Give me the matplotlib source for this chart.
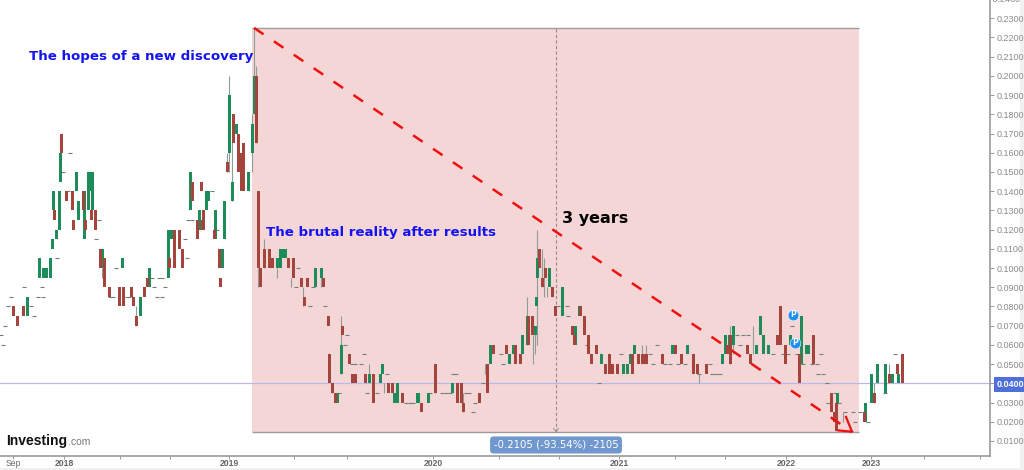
import matplotlib
matplotlib.use('Agg')
import matplotlib.pyplot as plt

# weekly candles, x is the week number on the (compressed) time axis
up_weeks = [6.75, 9.75, 10.75, 11.5, 12.5, 13, 13.25, 14, 14.75, 15, 19, 19.5, 21, 22, 22.25, 23, 25.5, 30.5, 35,
            37.25, 42, 42.75, 47.5, 49.25, 49.75, 51.5, 52, 53.75, 55.5, 56, 57.25, 58, 59, 60.5, 62, 63, 63.5,
            69.25, 70, 70.75, 71.25, 78.75, 80.25, 84.25,
            85.25, 92.25, 95, 95.5, 98.5, 99.25, 104.25, 104.5, 107, 113, 122.5, 127.25, 128.25, 130.5, 131.75,
            133.75, 134, 134.25, 137.25, 140.5, 143.75, 144.75, 150.25, 155.75, 156.75, 157.5, 158.5, 168,
            171.75, 180.5, 181.25, 182.25, 183.25, 189, 190, 190.75, 192, 197.5, 200.25, 201.5, 202, 209.25,
            216.25, 217.75, 219.25, 221.25, 223, 224.5]
up_open = [.075, .095, .095, .095, .095, .11, .13, .115, .12, .145, .14, .125, .115, .13, .14, .13, .10, .10, .075,
           .09, .095, .115, .13, .12, .12, .13, .135, .115, .10, .115, .16, .135, .17, .14, .14, .16, .18,
           .10, .10, .105, .105, .09, .095, .03,
           .045, .04, .04, .045, .03, .03, .03, .03, .03, .035, .05, .05, .055, .055, .06,
           .065, .08, .095, .09, .075, .06, .075, .05, .045, .045, .05, .055, .055,
           .055, .05, .055, .055, .06, .055, .065, .055, .055, .06, .05, .055, .055, .03,
           .02, .03, .04, .035, .04, .04]
up_close = [.085, .105, .10, .10, .105, .115, .14, .12, .14, .16, .15, .135, .14, .15, .15, .15, .11, .105, .085,
            .10, .12, .12, .15, .125, .13, .14, .14, .13, .11, .135, .19, .145, .175, .145, .15, .175, .20,
            .105, .11, .11, .11, .10, .10, .035,
            .06, .045, .045, .05, .035, .04, .035, .035, .035, .04, .06, .055, .06, .065, .075,
            .07, .085, .105, .10, .09, .07, .08, .055, .05, .05, .055, .06, .06,
            .06, .055, .065, .065, .07, .06, .075, .065, .06, .065, .075, .06, .06, .035,
            .03, .045, .05, .05, .045, .045]

down_weeks = [3.25, 4.25, 5.75, 13.5, 15.25, 16.5, 18, 18.25, 20.75, 21.25, 22.75, 23.75, 25, 26, 27.25, 29.75, 30.75,
              32.75, 33.25, 34, 36, 36.75, 42.25, 43.5, 44.75, 45.5, 48, 49.25, 50.25, 50.5, 50.75, 53.5, 54.75, 55,
              56.75, 58.25, 59.5, 60.25, 60.75, 64, 64.5, 65, 66, 67.25, 68, 72, 73.25, 75.25, 76, 76.75, 80.75,
              82, 82.25, 83, 83.75,
              85.5, 87.25, 88, 88.75, 91.25, 93.25, 97, 98, 100.5, 105.25, 108.75, 114.25, 115.25, 115.75, 119.75,
              121.75, 123.25, 126.5, 128.75, 130, 132, 133, 134.75, 135.5, 136.25, 138, 138.75, 143, 143.5, 145,
              146, 147, 147.75, 149, 151.25, 152.25, 153, 154.25, 158, 159.5, 160.5, 161, 161.5, 165.5, 168.75,
              170.25, 173.25, 174.25, 176.5, 181.75, 182.5, 186.75, 187.5, 194.25, 195, 196.25, 199.75, 203.25,
              207.75, 208.5, 209, 216, 218.5, 222.25, 224.25, 225.5]
down_open = [.08, .075, .08, .13, .17, .14, .14, .125, .14, .125, .13, .13, .11, .105, .09, .09, .09,
             .09, .085, .075, .09, .095, .105, .12, .12, .11, .145, .125, .145, .125, .13, .12, .11, .095,
             .155, .18, .17, .16, .165, .20, .14, .10, .11, .11, .105, .105, .105, .095, .085, .095, .095,
             .075, .055, .04, .035,
             .07, .055, .045, .045, .045, .045, .04, .04, .035, .03, .05, .04, .04, .03, .035,
             .05, .06, .06, .06, .055, .075, .075, .11, .095, .10, .09, .08, .07, .065, .08,
             .075, .065, .055, .06, .05, .055, .05, .05, .055, .055, .055, .055, .055, .055, .06,
             .055, .055, .05, .05, .06, .065, .06, .055, .065, .08, .06, .055, .065,
             .035, .025, .03, .025, .035, .045, .05, .055]
down_close = [.075, .07, .075, .125, .16, .135, .13, .12, .13, .12, .125, .12, .10, .09, .085, .08, .08,
              .085, .08, .07, .085, .09, .10, .10, .11, .10, .135, .115, .14, .12, .12, .115, .10, .09,
              .15, .165, .15, .14, .14, .165, .10, .09, .10, .10, .10, .10, .095, .09, .08, .09, .09,
              .07, .04, .035, .03,
              .065, .05, .04, .04, .04, .03, .035, .035, .03, .025, .035, .03, .03, .025, .03,
              .035, .055, .055, .05, .05, .06, .065, .10, .09, .095, .085, .075, .065, .06, .075,
              .065, .055, .05, .055, .045, .045, .045, .045, .045, .05, .05, .05, .05, .05, .055,
              .05, .045, .045, .045, .055, .05, .055, .05, .06, .06, .05, .04, .05,
              .025, .02, .015, .02, .03, .04, .045, .04]

# weeks where the price did not move, drawn as a small dash
flat_weeks = [.25, .75, 1.25, 2, 2.75, 6, 7.75, 8.5, 9.5, 10.5, 10.75, 14.25, 15.75, 17, 17.5, 24, 24.75, 27.5, 28.25,
              29, 31.75, 32.25, 38, 38.5, 39.25, 39.75, 40.5, 40.5, 41.25, 46.25, 46.75, 47, 48, 53, 54.25, 74.5, 74,
              77.5, 78.25, 81.25, 84.75,
              86.25, 86.75, 88, 88.75, 90.25, 91, 91.75, 94.25, 96.75, 101.5, 102.5, 103.25, 107.5, 110.5, 111.5,
              112.5, 113.25, 114, 116.5, 117.25, 118.25, 118.75, 120.75, 125.25, 125.75, 139.5, 141.75, 142, 146.75,
              149.75, 155.25, 162.5, 163.25, 164.25, 166.25, 167.5, 169.5,
              171.25, 174.75, 177.5, 178, 179, 180, 184.25, 185, 185.75, 187, 193.25, 195.75, 197, 198, 199.25,
              200.75, 203, 204.25, 205.25, 204.5, 205.75, 206.75, 207, 208.75, 209.75, 211.25, 212.75, 213.25, 213.75,
              215, 217, 221.25, 223.75]
flat_price = [.065, .06, .07, .08, .085, .09, .08, .075, .085, .09, .085, .105, .15, .14, .16, .115, .125, .085, .085,
              .10, .085, .085, .095, .09, .085, .095, .085, .095, .09, .115, .105, .125, .125, .14, .12, .10, .09,
              .08, .09, .08, .035,
              .06, .065, .05, .05, .05, .055, .035, .035, .045, .03, .03, .03, .035, .035, .035,
              .035, .045, .045, .035, .035, .025, .03, .04, .055, .05, .08, .08, .075, .06,
              .04, .055, .055, .05, .06, .05, .05, .05,
              .05, .045, .05, .045, .045, .045, .065, .06, .065, .065, .055, .055, .055, .07, .055,
              .05, .05, .05, .055, .045, .045, .04, .03, .035, .03, .025, .015, .025, .02,
              .025, .02, .035, .055]

wick_weeks = [25.5, 34, 56.75, 57.25, 58, 63, 63.5, 64, 64.5, 66, 69.25, 72.75, 75.75, 80.25, 83,
              85.25, 92.25, 96, 108.75, 115.75, 121.25, 131.75, 133.25, 133.75, 134.25, 135.5, 136, 136.75, 138,
              160.5, 161.5, 174.75, 182.5, 183.25, 188.25, 210.75, 218.5, 222.25]
wick_low = [.095, .07, .15, .15, .135, .15, .18, .165, .09, .10, .095, .09, .08, .09, .035,
            .045, .04, .035, .035, .025, .045, .06, .05, .055, .06, .09, .085, .085, .085,
            .05, .05, .04, .05, .055, .055, .02, .03, .04]
wick_high = [.10, .08, .16, .20, .18, .18, .225, .205, .10, .115, .10, .095, .09, .10, .04,
             .075, .05, .04, .05, .035, .05, .085, .065, .07, .12, .11, .105, .09, .09,
             .06, .06, .045, .07, .07, .07, .025, .04, .05]

x_ticks = [3.25, 16, 30, 42.5, 57.25, 73.5, 86.75, 108.25, 124.75, 139.75, 154.75, 168.75, 181.25, 196.5, 217.75, 231, 245]
x_labels = ['Sep', '2018', '', '', '2019', '', '', '2020', '', '', '2021', '', '', '2022', '2023', '', '']
y_ticks = [i / 100 for i in range(1, 25)]

green = '#1E8C5A'
red = '#A5443C'
wick = '#8E9C94'

fig = plt.figure(figsize=(10.24, 4.7), dpi=100, facecolor='#F1F1F1')
back = fig.add_axes([0, 2 / 470, 1020 / 1024, 468 / 470], facecolor='white', zorder=0)
back.set_xticks([])
back.set_yticks([])
for s in back.spines.values():
    s.set_visible(False)
ax = fig.add_axes([0, 14 / 470, 990 / 1024, 456 / 470], facecolor='none', zorder=1)
ax.set_xlim(0, 247.5)
ax.set_ylim(0.00216, 0.2395)

# shaded measure box
ax.fill_between([63, 214.75], 0.0145, 0.2248, color='#F5D6D6', lw=0, zorder=1)
ax.hlines([0.0145, 0.2248], 63, 214.75, color='#A09A9A', lw=1, zorder=1.5)
ax.axhline(0.04, color='#B8B8EC', lw=0.9, zorder=1.6)
ax.vlines(139, 0.0145, 0.2248, color='#9A8A8A', lw=0.8, ls=(0, (3, 2)), zorder=1.6)
ax.plot([138.4, 139, 139.6], [0.0165, 0.0148, 0.0165], color='#9A8A8A', lw=0.7, zorder=1.6)

ax.vlines(wick_weeks, wick_low, wick_high, color=wick, lw=0.8, zorder=2)
ax.hlines(flat_price, [w - 0.4 for w in flat_weeks], [w + 0.4 for w in flat_weeks], color='#6E7F74', lw=0.8, zorder=2)
ax.bar(up_weeks, [c - o for o, c in zip(up_open, up_close)], bottom=up_open, width=0.75, color=green, lw=0, zorder=3)
ax.bar(down_weeks, [o - c for o, c in zip(down_open, down_close)], bottom=down_close, width=0.75, color=red, lw=0, zorder=3)

# trend arrow
ax.plot([63.5, 213], [0.225, 0.0148], color='#F01010', lw=1.8, ls=(0, (4.6, 5)), zorder=4)
ax.plot([209.5, 213, 211.5], [0.0155, 0.0148, 0.0225], color='#F01010', lw=1.6, zorder=4)

# news markers
ax.scatter([198.25, 198.75], [0.0757, 0.0611], s=60, color='#1E90F0', edgecolor='white', lw=0.4, zorder=5)
ax.text(198.25, 0.0757, 'P', color='white', fontsize=5.5, fontweight='bold', ha='center', va='center', zorder=6)
ax.text(198.75, 0.0611, 'P', color='white', fontsize=5.5, fontweight='bold', ha='center', va='center', zorder=6)

ax.text(7.25, 0.2102, 'The hopes of a new discovery', color='#1414F0', fontsize=9.6, fontweight='bold', va='center', zorder=6)
ax.text(66.5, 0.1184, 'The brutal reality after results', color='#1414F0', fontsize=9.6, fontweight='bold', va='center', zorder=6)
ax.text(140.5, 0.1257, '3 years', color='black', fontsize=11.5, fontweight='bold', va='center', zorder=6)

ax.text(139, 0.0079, '-0.2105 (-93.54%) -2105', color='white', fontsize=7.3, ha='center', va='center', zorder=6,
        bbox=dict(boxstyle='round,pad=0.35', facecolor='#7097CE', edgecolor='none'))

ax.text(1.5, 0.01, 'Investing', color='#111111', fontsize=10, fontweight='bold',
        family='Liberation Sans', va='center', zorder=6)
ax.text(16.9, 0.0095, '.com', color='#777777', fontsize=7.5, family='Liberation Sans', va='center', zorder=6)

for side in ['left', 'top']:
    ax.spines[side].set_visible(False)
for side in ['right', 'bottom']:
    ax.spines[side].set_color('#999999')
    ax.spines[side].set_linewidth(1.2)

ax.yaxis.tick_right()
ax.set_yticks(y_ticks[:-1], ['%.4f' % v for v in y_ticks[:-1]])
ax.tick_params(axis='y', length=3, width=0.7, color='#999999', labelsize=6.5, labelcolor='#8A8A8A', pad=2)
ax.set_xticks(x_ticks, x_labels)
ax.tick_params(axis='x', length=2, width=0.7, color='#999999', labelsize=6.2, labelcolor='#666666', pad=0.5)
for lab in ax.get_yticklabels() + ax.get_xticklabels():
    lab.set_family('Liberation Sans')
for lab in ax.get_xticklabels():
    lab.set_fontweight('bold' if lab.get_text() != 'Sep' else 'normal')
tag = ax.get_yticklabels()[3]
tag.set_color('white')
tag.set_fontweight('bold')
tag.set_bbox(dict(facecolor='#4F70DC', edgecolor='none', pad=2))

# the top label sits half outside the picture, as in the original
ax.text(1.0, 0.24, ' 0.2400', transform=ax.get_yaxis_transform(), color='#8A8A8A', fontsize=6.5,
        family='Liberation Sans', va='center', ha='left', clip_on=False)

fig.savefig('out.png', dpi=100, facecolor=fig.get_facecolor())
